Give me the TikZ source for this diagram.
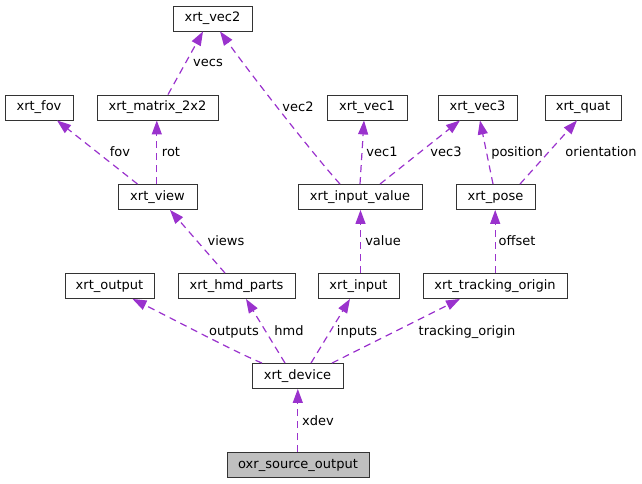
\documentclass[tikz,border=0pt]{standalone}
\usepackage{fontspec}
\setmainfont{DejaVu Sans}
\usetikzlibrary{arrows.meta}
\definecolor{edgecol}{HTML}{9A32CD}
\definecolor{srcfill}{HTML}{BFBFBF}
\definecolor{boxline}{HTML}{333333}
\tikzset{
  cls/.style={draw=boxline, fill=white, line width=0.9pt, minimum height=25pt, inner sep=0pt, font=\fontsize{13}{15}\selectfont},
  srccls/.style={cls, fill=srcfill},
  depedge/.style={draw=edgecol, line width=1.2pt, dash pattern=on 7pt off 5pt, -{Triangle[length=14pt,width=10pt]}},
  lbl/.style={inner sep=0pt, anchor=base, font=\fontsize{13}{15}\selectfont}
}
\begin{document}
\begin{tikzpicture}[x=1pt,y=-1pt]
\useasboundingbox (0,0) rectangle (642,484);
% nodes
\node[cls, minimum width=79pt]  (vec2) at (212.5,18.5) {xrt\_vec2};
\node[cls, minimum width=68pt]  (fov)  at (39,107.5) {xrt\_fov};
\node[cls, minimum width=121pt] (mat)  at (157.5,107.5) {xrt\_matrix\_2x2};
\node[cls, minimum width=80pt]  (vec1) at (367,107.5) {xrt\_vec1};
\node[cls, minimum width=79pt]  (vec3) at (477.5,107.5) {xrt\_vec3};
\node[cls, minimum width=76pt]  (quat) at (583,107.5) {xrt\_quat};
\node[cls, minimum width=79pt]  (view) at (157.5,197) {xrt\_view};
\node[cls, minimum width=124pt] (iv)   at (360,197) {xrt\_input\_value};
\node[cls, minimum width=79pt]  (pose) at (495.5,197) {xrt\_pose};
\node[cls, minimum width=89pt]  (out)  at (109.5,286) {xrt\_output};
\node[cls, minimum width=117pt] (hmd)  at (236.5,286) {xrt\_hmd\_parts};
\node[cls, minimum width=81pt]  (inp)  at (358.5,286) {xrt\_input};
\node[cls, minimum width=144pt] (to)   at (495,286) {xrt\_tracking\_origin};
\node[cls, minimum width=91pt]  (dev)  at (297.5,376) {xrt\_device};
\node[srccls, minimum width=142pt] (src) at (298,465) {oxr\_source\_output};
% edges
\draw[depedge] ([xshift=10.5pt]mat.north) -- ([xshift=-9.5pt]vec2.south);
\draw[depedge] ([xshift=-20pt]iv.north) .. controls (318,160) and (255,80) .. ([xshift=7.5pt]vec2.south);
\draw[depedge] ([xshift=-20pt]view.north) -- ([xshift=18pt]fov.south);
\draw[depedge] ([xshift=-0.7pt]view.north) -- ([xshift=-0.7pt]mat.south);
\draw[depedge] (iv.north) -- ([xshift=-3pt]vec1.south);
\draw[depedge] ([xshift=20pt]iv.north) -- ([xshift=-17.5pt]vec3.south);
\draw[depedge] ([xshift=-2.5pt]pose.north) -- ([xshift=2.5pt]vec3.south);
\draw[depedge] ([xshift=24.5pt]pose.north) -- ([xshift=-6pt]quat.south);
\draw[depedge] ([xshift=-11.5pt]hmd.north) -- ([xshift=12.5pt]view.south);
\draw[depedge] ([xshift=2pt]inp.north) -- ([xshift=0.5pt]iv.south);
\draw[depedge] ([xshift=0.2pt]to.north) -- ([xshift=-0.3pt]pose.south);
\draw[depedge] ([xshift=-35.5pt]dev.north) .. controls (235,352) and (175,320) .. ([xshift=23pt]out.south);
\draw[depedge] ([xshift=-12.5pt]dev.north) -- ([xshift=9.5pt]hmd.south);
\draw[depedge] ([xshift=13.5pt]dev.north) -- ([xshift=-8.5pt]inp.south);
\draw[depedge] ([xshift=34.5pt]dev.north) -- ([xshift=-35pt]to.south);
\draw[depedge] ([xshift=-0.2pt]src.north) -- ([xshift=0.3pt]dev.south);
% labels
\node[lbl] (l-vecs) at (208,66.5) {vecs};
\node[lbl] (l-vec2) at (298,111.5) {vec2};
\node[lbl] (l-fov)  at (120,156.5) {fov};
\node[lbl] (l-rot)  at (171,156.5) {rot};
\node[lbl] (l-vec1) at (382,156.5) {vec1};
\node[lbl] (l-vec3) at (446,156.5) {vec3};
\node[lbl] (l-pos)  at (517,156.5) {position};
\node[lbl] (l-ori)  at (601,156.5) {orientation};
\node[lbl] (l-views) at (226,245.5) {views};
\node[lbl] (l-value) at (383,245.5) {value};
\node[lbl] (l-off)  at (517,245.5) {offset};
\node[lbl] (l-outs) at (234,335.5) {outputs};
\node[lbl] (l-hmd)  at (289,335.5) {hmd};
\node[lbl] (l-ins)  at (357,335.5) {inputs};
\node[lbl] (l-tro)  at (467,335.5) {tracking\_origin};
\node[lbl] (l-xdev) at (318,425) {xdev};
\end{tikzpicture}
\end{document}
